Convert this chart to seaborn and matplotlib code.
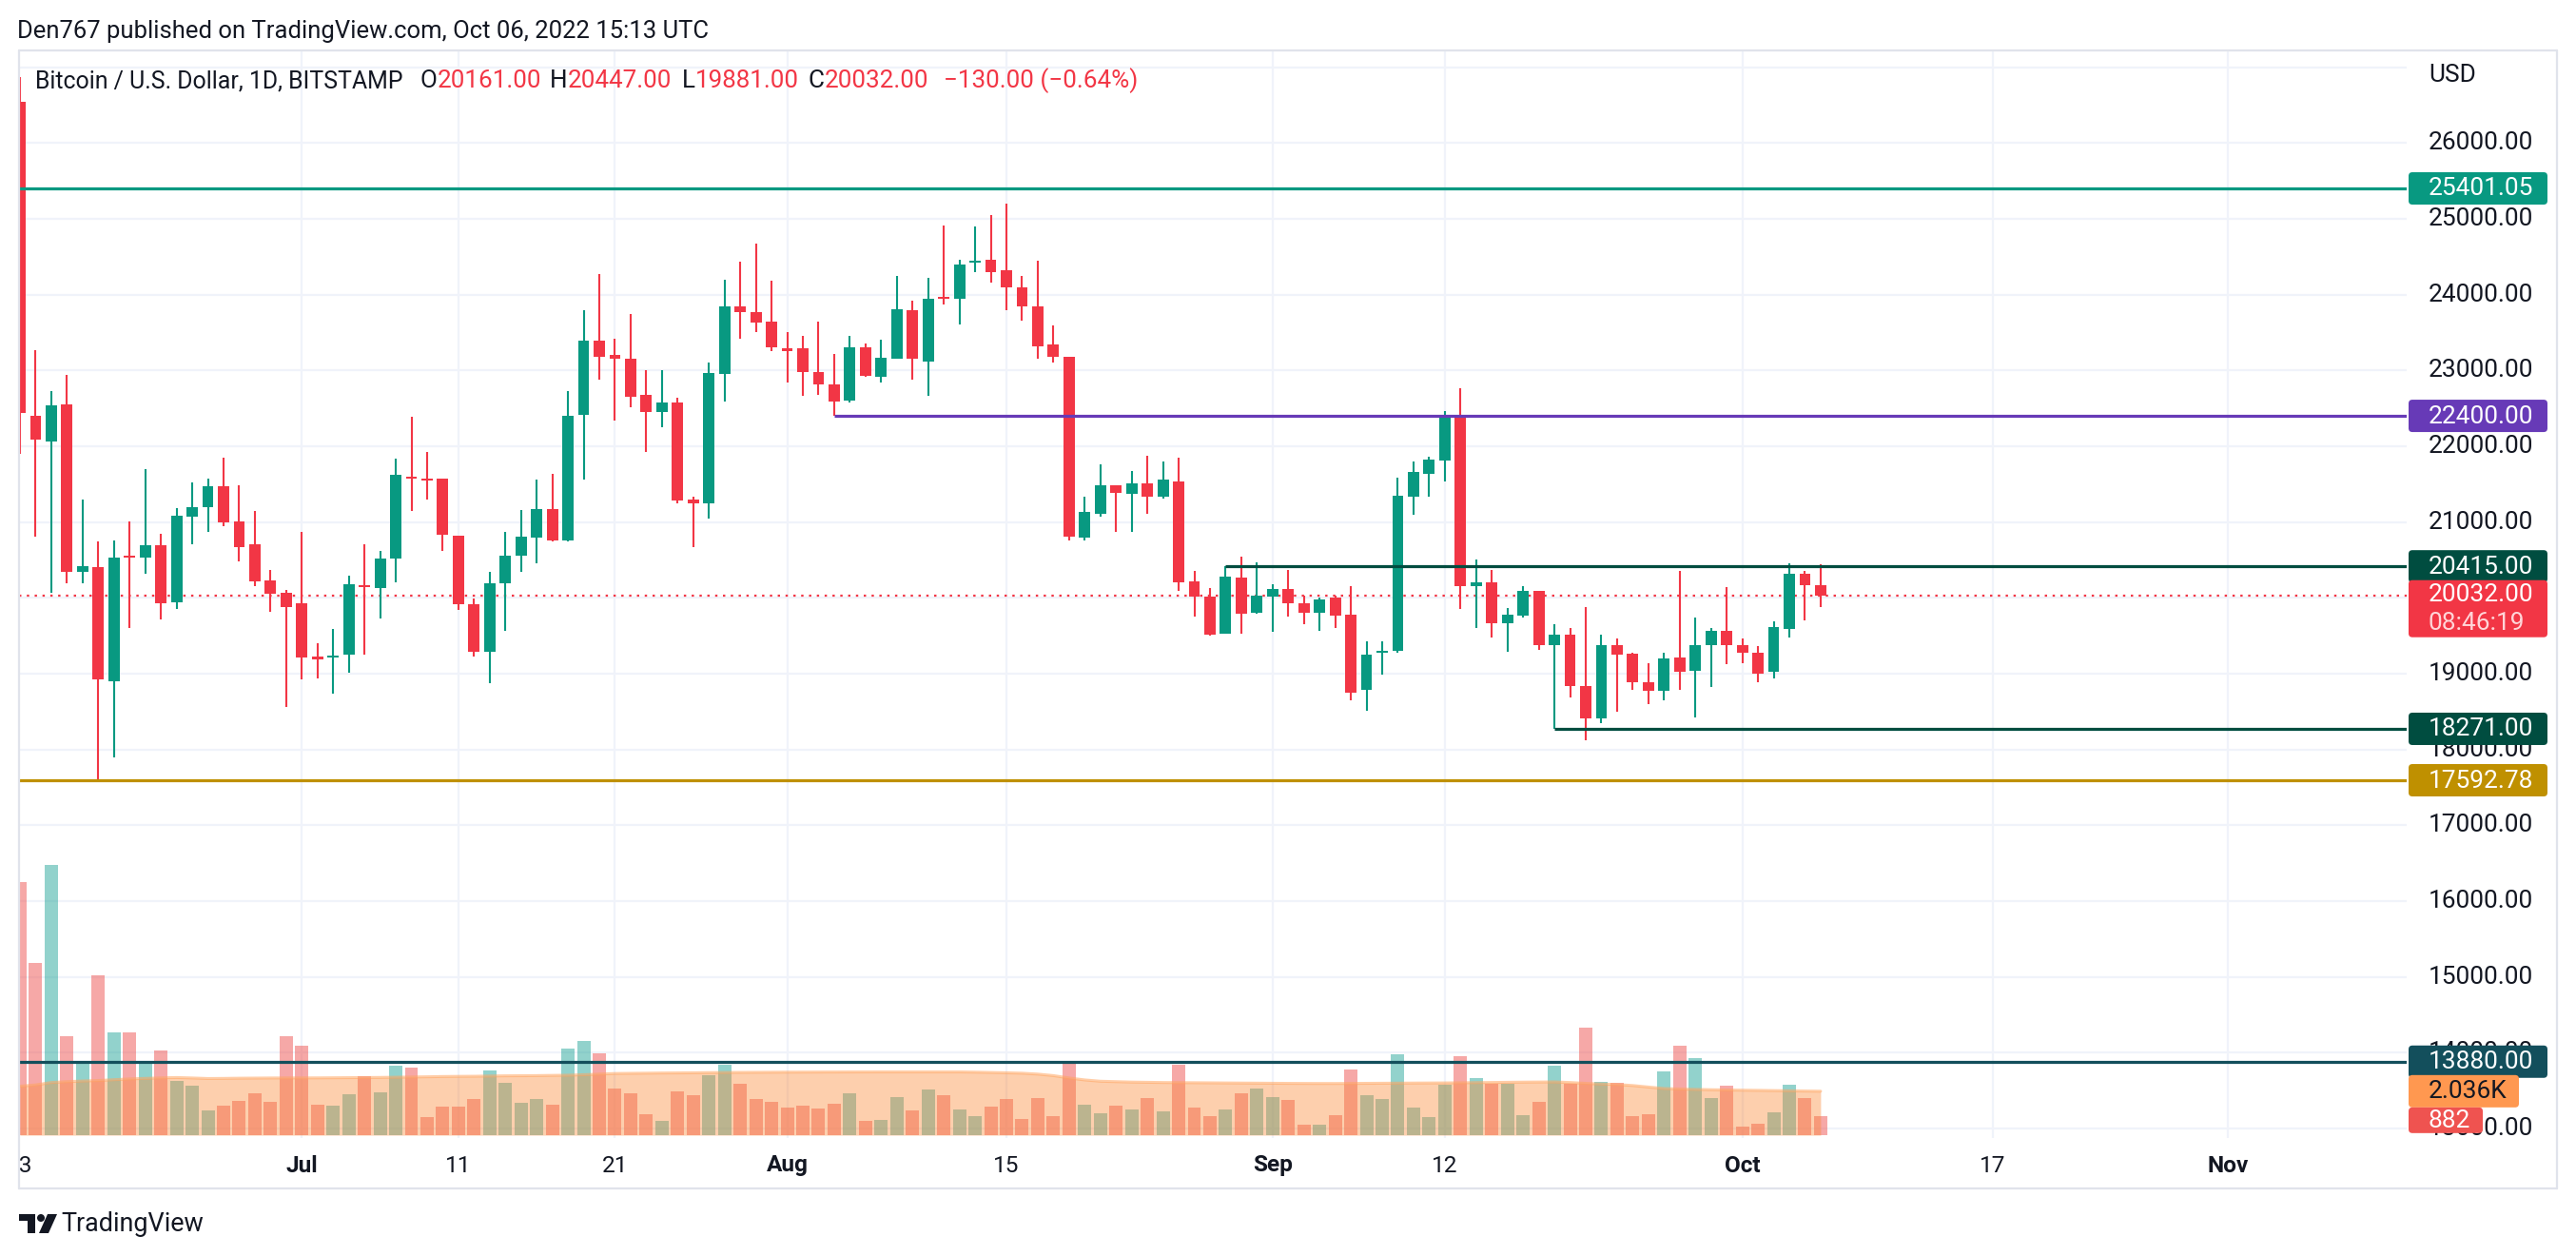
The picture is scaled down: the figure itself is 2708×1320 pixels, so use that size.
import numpy as np
import pandas as pd
import matplotlib
matplotlib.use("Agg")
import matplotlib.pyplot as plt
from matplotlib import transforms
from matplotlib.transforms import IdentityTransform, Bbox
from matplotlib.patches import FancyBboxPatch, Rectangle, Polygon, Circle
from matplotlib.lines import Line2D
import seaborn as sns

# ---------------------------------------------------------------- data
start_date = "2022-06-13"

open_jun = [26540, 22400, 22060, 22550, 20340, 20410, 18900, 20550, 20530, 20690, 19940, 21070, 21190, 21470, 21010, 20700, 20230, 20060]
high_jun = [26870, 23270, 22730, 22940, 21300, 20750, 20760, 21010, 21700, 20840, 21180, 21520, 21570, 21850, 21490, 21150, 20370, 20100]
low_jun = [21900, 20810, 20070, 20190, 20190, 17592.78, 17890, 19600, 20320, 19710, 19850, 20700, 20870, 20950, 20480, 20160, 19810, 18560]
close_jun = [22440, 22090, 22540, 20340, 20420, 18920, 20530, 20530, 20690, 19930, 21080, 21190, 21470, 20990, 20670, 20220, 20050, 19880]

open_jul = [19930, 19220, 19210, 19250, 20170, 20130, 20520, 21600, 21570, 21570, 20820, 19910, 19290, 20190, 20550, 20800, 21170, 20760, 22410, 23390, 23210, 23160, 22680, 22450, 22580, 21290, 21240, 22950, 23850, 23770, 23640]
high_jul = [20870, 19400, 19590, 20290, 20700, 20620, 21840, 22390, 21930, 21570, 20820, 19990, 20340, 20870, 21160, 21560, 21640, 22730, 23790, 24270, 23420, 23750, 23000, 23000, 22640, 21330, 23100, 24190, 24430, 24670, 24180]
low_jul = [18920, 18930, 18730, 19010, 19250, 19730, 20200, 21140, 21290, 20620, 19840, 19220, 18870, 19570, 20340, 20460, 20740, 20740, 21560, 22880, 22340, 22510, 21930, 22250, 21240, 20670, 21040, 22590, 23420, 23510, 23250]
close_jul = [19210, 19190, 19240, 20180, 20140, 20520, 21620, 21570, 21550, 20830, 19910, 19290, 20190, 20560, 20810, 21170, 20760, 22400, 23390, 23180, 23150, 22650, 22450, 22580, 21280, 21240, 22960, 23840, 23770, 23630, 23300]

open_aug = [23290, 23290, 22980, 22820, 22600, 23310, 22920, 23160, 23800, 23120, 23950, 23940, 24420, 24460, 24320, 24090, 23850, 23340, 23180, 20800, 21110, 21490, 21370, 21510, 21330, 21530, 20220, 20020, 19520, 20270, 19800]
high_aug = [23500, 23460, 23640, 23220, 23460, 23350, 23400, 24250, 23920, 24220, 24910, 24460, 24900, 25050, 25200, 24250, 24450, 23590, 23180, 21340, 21760, 21490, 21670, 21870, 21800, 21850, 20360, 20130, 20415, 20540, 20470]
low_aug = [22840, 22660, 22680, 22400, 22580, 22920, 22840, 23160, 22880, 22660, 23870, 23610, 24300, 24160, 23790, 23660, 23160, 23100, 20760, 20760, 21070, 20870, 20870, 21110, 21310, 20090, 19750, 19500, 19520, 19520, 19790]
close_aug = [23260, 22980, 22820, 22590, 23310, 22930, 23170, 23810, 23150, 23950, 23940, 24400, 24440, 24300, 24090, 23850, 23320, 23180, 20810, 21130, 21490, 21380, 21510, 21340, 21560, 20200, 20020, 19510, 20280, 19790, 20030]

open_sep = [20020, 20110, 19930, 19800, 20000, 19780, 18780, 19270, 19300, 21340, 21640, 21810, 22390, 20150, 20200, 19660, 19760, 20090, 19370, 19510, 18840, 18410, 19380, 19260, 18890, 18770, 19210, 19040, 19370, 19560]
high_sep = [20180, 20370, 20030, 20000, 20030, 20150, 19420, 19420, 21590, 21800, 21860, 22460, 22770, 20500, 20370, 19860, 20150, 20090, 19650, 19600, 19880, 19510, 19460, 19280, 19140, 19280, 20360, 19740, 19600, 20140]
low_sep = [19550, 19750, 19650, 19560, 19600, 18650, 18510, 18990, 19280, 21100, 21340, 21540, 19850, 19600, 19480, 19290, 19740, 19310, 18271, 18680, 18120, 18340, 18500, 18780, 18600, 18650, 18790, 18420, 18820, 19120]
close_sep = [20110, 19930, 19800, 19980, 19760, 18750, 19250, 19300, 21350, 21660, 21820, 22390, 20150, 20200, 19660, 19780, 20090, 19370, 19510, 18830, 18410, 19370, 19250, 18880, 18770, 19200, 19030, 19380, 19560, 19380]

open_oct = [19380, 19270, 19020, 19590, 20320, 20161]
high_oct = [19460, 19360, 19690, 20460, 20350, 20447]
low_oct = [19140, 18890, 18940, 19470, 19700, 19881]
close_oct = [19270, 19000, 19610, 20320, 20162, 20032]

vol_jun = [11716, 7966, 12508, 4572, 3350, 7393, 4748, 4748, 3322, 3910, 2499, 2278, 1132, 1352, 1573, 1925, 1528, 4572]
vol_jul = [4130, 1396, 1352, 1881, 2719, 1969, 3204, 3116, 823, 1308, 1308, 1660, 2984, 2410, 1484, 1660, 1396, 3998, 4351, 3777, 2146, 1925, 955, 646, 2014, 1837, 2763, 3248, 2366, 1660, 1528]
vol_aug = [1264, 1352, 1220, 1440, 1925, 646, 690, 1749, 1132, 2102, 1837, 1176, 867, 1308, 1660, 735, 1705, 867, 3322, 1396, 999, 1352, 1176, 1705, 1088, 3248, 1264, 867, 1176, 1925, 2146]
vol_sep = [1749, 1617, 470, 470, 911, 3028, 1837, 1660, 3733, 1264, 823, 2322, 3645, 2631, 2366, 2366, 911, 1528, 3204, 2366, 4969, 2455, 2410, 867, 955, 2940, 4130, 3557, 1705, 2278]
vol_oct = [382, 514, 1043, 2322, 1705, 882]

ma_jun = [2269, 2330, 2440, 2480, 2510, 2533, 2570, 2607, 2630, 2655, 2671, 2650, 2625, 2630, 2640, 2645, 2650, 2652]
ma_jul = [2653, 2655, 2660, 2665, 2670, 2675, 2685, 2695, 2705, 2718, 2725, 2730, 2740, 2750, 2755, 2760, 2770, 2778, 2800, 2830, 2857, 2865, 2872, 2880, 2885, 2890, 2897, 2903, 2908, 2912, 2916]
ma_aug = [2920, 2922, 2925, 2927, 2929, 2930, 2931, 2931, 2931, 2931, 2931, 2931, 2920, 2905, 2890, 2871, 2830, 2760, 2650, 2560, 2500, 2480, 2460, 2450, 2440, 2435, 2430, 2425, 2420, 2415, 2410]
ma_sep = [2405, 2400, 2397, 2395, 2394, 2398, 2402, 2406, 2410, 2415, 2418, 2421, 2428, 2435, 2442, 2450, 2458, 2463, 2468, 2440, 2400, 2370, 2347, 2300, 2230, 2162, 2140, 2120, 2105, 2095]
ma_oct = [2084, 2075, 2065, 2055, 2045, 2036]

opens = open_jun + open_jul + open_aug + open_sep + open_oct
highs = high_jun + high_jul + high_aug + high_sep + high_oct
lows = low_jun + low_jul + low_aug + low_sep + low_oct
closes = close_jun + close_jul + close_aug + close_sep + close_oct
volumes = vol_jun + vol_jul + vol_aug + vol_sep + vol_oct
vol_ma = ma_jun + ma_jul + ma_aug + ma_sep + ma_oct

level_prices = [25401.05, 22400.00, 20415.00, 18271.00, 17592.78, 13880.00]
level_starts = [None, "2022-08-04", "2022-08-29", "2022-09-19", None, None]
level_colors = ["#089981", "#673ab7", "#004d40", "#004d40", "#bf9000", "#134f5c"]

price_ticks = [26000, 25000, 24000, 23000, 22000, 21000, 20000, 19000, 18000, 17000, 16000, 15000, 14000, 13000]
grid_prices = [27000] + price_ticks
date_ticks = ["2022-06-13", "2022-07-01", "2022-07-11", "2022-07-21", "2022-08-01", "2022-08-15",
              "2022-09-01", "2022-09-12", "2022-10-01", "2022-10-17", "2022-11-01"]
date_tick_labels = ["13", "Jul", "11", "21", "Aug", "15", "Sep", "12", "Oct", "17", "Nov"]
month_labels = ["Jul", "Aug", "Sep", "Oct", "Nov"]

header_text = "Den767 published on TradingView.com, Oct 06, 2022 15:13 UTC"
symbol_text = "Bitcoin / U.S. Dollar, 1D, BITSTAMP"
currency_text = "USD"
countdown_text = "08:46:19"
brand_text = "TradingView"

# ---------------------------------------------------------------- setup
assert len(opens) == len(highs) == len(lows) == len(closes) == len(volumes) == len(vol_ma) == 116

W, H, DPI = 2708, 1320, 100
sns.set_style("white")
plt.rcParams['font.family'] = ['Roboto', 'DejaVu Sans']

UP, DOWN = '#089981', '#f23645'
TXT = '#131722'
GRID = '#f0f3fa'
BORDER = '#e0e3eb'

t0 = pd.Timestamp(start_date)
def day(d):
    return (pd.Timestamp(d) - t0).days

n = len(closes)
idx = np.arange(n)
O = np.array(opens, float); Hh = np.array(highs, float)
Lw = np.array(lows, float); C = np.array(closes, float)
V = np.array(volumes, float); MA = np.array(vol_ma, float)
is_up = C >= O

fig = plt.figure(figsize=(W / DPI, H / DPI), dpi=DPI)
fig.patch.set_facecolor('white')
renderer = fig.canvas.get_renderer()
ID = IdentityTransform()

PL, PR, PT, PB = 20, 2530, 53, 1196
rect = [PL / W, 1 - PB / H, (PR - PL) / W, (PB - PT) / H]
axv = fig.add_axes(rect, zorder=1)
ax = fig.add_axes(rect, zorder=2)
ax.set_facecolor('none')
for a in (ax, axv):
    for s in a.spines.values():
        s.set_visible(False)
    a.set_xticks([]); a.set_yticks([])

px_per_day = 16.46
x_lo = -1.0 / px_per_day
x_hi = x_lo + (PR - PL) / px_per_day
px_per_usd = 0.07966
ref_y, ref_p = 198, 25401.05
y_hi = ref_p + (ref_y - PT) / px_per_usd
y_lo = ref_p - (PB - ref_y) / px_per_usd
ax.set_xlim(x_lo, x_hi); ax.set_ylim(y_lo, y_hi)

px_per_vol = 0.02268
vol_lo = -3 / px_per_vol
vol_hi = (PB - PT - 3) / px_per_vol

# ---------------------------------------------------------------- grid (under volume)
gblend = transforms.blended_transform_factory(axv.transAxes, ax.transData)
for p in grid_prices:
    axv.add_line(Line2D([0, 1], [p, p], transform=gblend, color=GRID, lw=1.6, zorder=0))
tick_days = [day(d) for d in date_ticks]
for d in tick_days[1:]:
    axv.axvline(d, color=GRID, lw=1.6, zorder=0)

# ---------------------------------------------------------------- volume
vdf = pd.DataFrame({"day": idx, "vol": V, "dir": np.where(is_up, "up", "down")})
sns.barplot(data=vdf, x="day", y="vol", hue="dir", palette={"up": "#26a69a", "down": "#ef5350"},
            native_scale=True, dodge=False, width=0.85, errorbar=None, alpha=0.5,
            saturation=1, legend=False, linewidth=0, ax=axv)
axv.fill_between(idx, 0, MA, color='#fa8734', alpha=0.4, lw=0, zorder=3)
sns.lineplot(x=idx, y=MA, ax=axv, color='#ffa560', lw=2.2, alpha=0.55, zorder=4)
axv.set_xlim(x_lo, x_hi); axv.set_ylim(vol_lo, vol_hi)
axv.set_xlabel(""); axv.set_ylabel("")
axv.set_xticks([]); axv.set_yticks([])

# ---------------------------------------------------------------- candles
ccol = np.where(is_up, UP, DOWN)
ax.axhline(C[-1], color=DOWN, lw=1.6, ls=(0, (1.1, 2.6)), zorder=2)
ax.vlines(idx, Lw, Hh, colors=ccol, lw=1.5, zorder=3)
body_bottom = np.minimum(O, C)
body_h = np.maximum(np.abs(C - O), 25)
ax.bar(idx, body_h, bottom=body_bottom, width=0.72, color=ccol, linewidth=0, zorder=4)

# horizontal levels
for p, s, c in zip(level_prices, level_starts, level_colors):
    xs = x_lo if s is None else day(s)
    ax.hlines(p, xs, x_hi, colors=c, lw=2.3, zorder=5)

# ---------------------------------------------------------------- text helpers
def fit_size(s, target, weight='normal'):
    t = fig.text(0, 0, s, fontsize=20, fontweight=weight)
    w = t.get_window_extent(renderer=renderer).width
    t.remove()
    return 20 * target / w

FS_AX = fit_size("26000.00", 110)
FS_LEG = fit_size("20161.00", 109)
FS_SYM = fit_size(symbol_text, 387)
FS_HEAD = fit_size(header_text, 726)
FS_BRAND = fit_size(brand_text, 150)

def ydisp(p):
    return ax.transData.transform((0, p))[1]

def vdisp(v):
    return axv.transData.transform((0, v))[1]

# price axis labels
for p in price_ticks:
    fig.text(2553, ydisp(p), f"{p:.2f}", transform=ID, fontsize=FS_AX, color=TXT,
             ha='left', va='center', zorder=15)
fig.text(2553, H - 79, currency_text, transform=ID, fontsize=FS_AX, color=TXT,
         ha='left', va='center', zorder=15)

def tag(top, height, width, bg, lines, fgs, zo=20):
    box = FancyBboxPatch((2532, top - height), width, height,
                         boxstyle="round,pad=0,rounding_size=4", transform=ID,
                         fc=bg, ec='none', zorder=zo)
    fig.add_artist(box)
    n_l = len(lines)
    step = height / n_l
    for k, (s, fg) in enumerate(zip(lines, fgs)):
        fig.text(2553, top - step * (k + 0.5) - 0.5, s, transform=ID, fontsize=FS_AX, color=fg,
                 ha='left', va='center', zorder=zo + 1)

for p, c in zip(level_prices, level_colors):
    yc = ydisp(p)
    tag(yc + 17, 34, 146, c, [f"{p:.2f}"], ['white'])
yc = ydisp(C[-1])
tag(yc + 16, 60, 146, DOWN, [f"{C[-1]:.2f}", countdown_text], ['white', '#ffd5d8'], zo=22)
ym = vdisp(MA[-1])
tag(ym + 17, 34, 116, '#ff9850', [f"{MA[-1] / 1000:.3f}K"], [TXT], zo=24)
tag(ym - 17, 27, 78, '#ef5350', [f"{V[-1]:.0f}"], ['white'], zo=24)

# time axis labels
clip = Bbox.from_extents(PL, 0, PR, H)
for d, lab in zip(tick_days, date_tick_labels):
    xd = ax.transData.transform((d, 0))[0]
    t = fig.text(xd, H - 1225, lab, transform=ID, fontsize=FS_AX * 0.93, color=TXT,
                 ha='center', va='center',
                 fontweight='bold' if lab in month_labels else 'normal', zorder=15)
    t.set_clip_box(clip); t.set_clip_on(True)

# header
fig.text(18, H - 33, header_text, transform=ID, fontsize=FS_HEAD, color=TXT, ha='left', va='center')

# legend (symbol + OHLC)
chg = C[-1] - C[-2]
pct = chg / C[-2] * 100
def fmt_signed(v):
    return ("\u2212" if v < 0 else "+") + f"{abs(v):.2f}"
parts = [(symbol_text, TXT, FS_SYM, 18),
         ("O", TXT, FS_LEG, 0), (f"{O[-1]:.2f}", DOWN, FS_LEG, 9),
         ("H", TXT, FS_LEG, 0), (f"{Hh[-1]:.2f}", DOWN, FS_LEG, 11),
         ("L", TXT, FS_LEG, 0), (f"{Lw[-1]:.2f}", DOWN, FS_LEG, 10),
         ("C", TXT, FS_LEG, 0), (f"{C[-1]:.2f}", DOWN, FS_LEG, 16),
         (f"{fmt_signed(chg)} ({fmt_signed(pct)}%)", DOWN, FS_LEG, 0)]
xcur = 37
for s, col, fs, gap in parts:
    t = fig.text(xcur, H - 85, s, transform=ID, fontsize=fs, color=col, ha='left', va='center', zorder=16)
    w = t.get_window_extent(renderer=renderer).width
    xcur += w + gap

# borders
for (xa, ya, xb, yb) in [(PL, PT, 2688, PT), (PL, 1249, 2688, 1249), (PL, PT, PL, 1249), (2688, PT, 2688, 1249)]:
    fig.add_artist(Line2D([xa, xb], [H - ya, H - yb], transform=ID, color=BORDER, lw=1.6, zorder=30))

# TradingView brand
logo_col = TXT
fig.add_artist(Polygon([(20, H - 1276), (37, H - 1276), (37, H - 1296), (28.5, H - 1296), (28.5, H - 1283), (20, H - 1283)],
                       closed=True, transform=ID, fc=logo_col, ec='none'))
fig.add_artist(Circle((43, H - 1280), 4.0, transform=ID, fc=logo_col, ec='none'))
fig.add_artist(Polygon([(50, H - 1276), (60, H - 1276), (51, H - 1296), (41, H - 1296)],
                       closed=True, transform=ID, fc=logo_col, ec='none'))
fig.text(64, H - 1286, brand_text, transform=ID, fontsize=FS_BRAND, color=TXT, ha='left', va='center')

fig.savefig("out.png", dpi=DPI, facecolor='white')
